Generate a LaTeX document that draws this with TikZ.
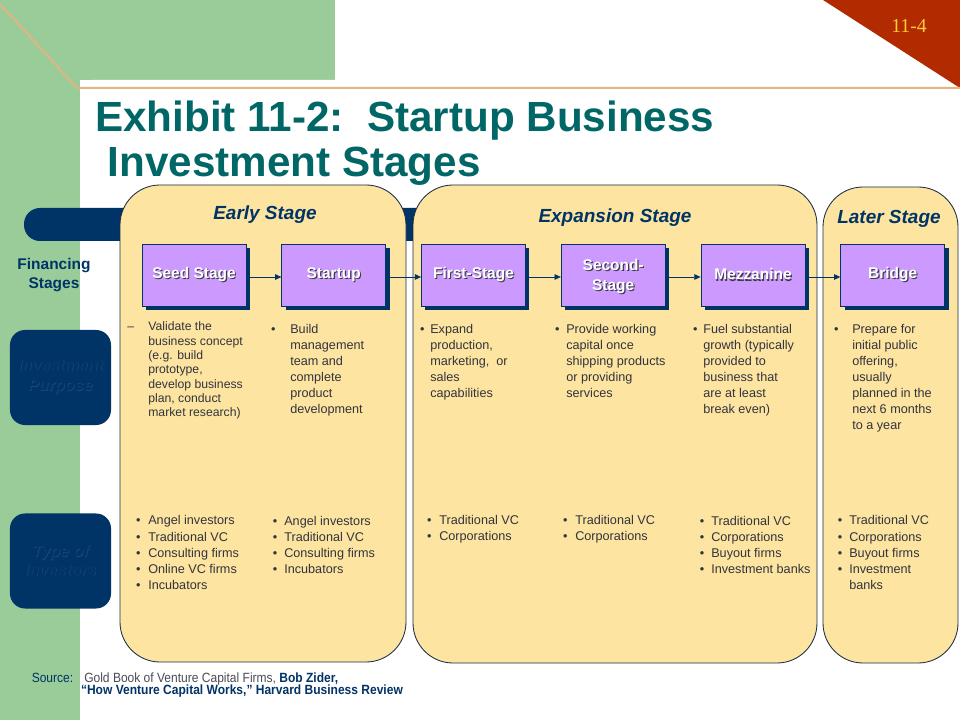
\documentclass[tikz,border=0pt]{standalone}
\usepackage{xcolor}
\usepackage{fontspec}
\setmainfont{Liberation Sans}
\newfontfamily\numfont{Liberation Serif}
\newfontfamily\narrowfont[FakeStretch=0.9]{Liberation Sans}
\usepackage{tikz}
\usetikzlibrary{arrows.meta,positioning,shadows}

\definecolor{slidegreen}{RGB}{153,204,153}
\definecolor{linetan}{RGB}{228,180,128}
\definecolor{slidered}{RGB}{178,42,0}
\definecolor{numgold}{RGB}{255,204,51}
\definecolor{titleteal}{RGB}{0,102,102}
\definecolor{navy}{RGB}{0,51,102}
\definecolor{panelfill}{RGB}{253,228,160}
\definecolor{panelline}{RGB}{25,45,70}
\definecolor{stagepurple}{RGB}{204,153,255}
\definecolor{boxshade}{RGB}{60,60,70}
\definecolor{sideshade}{RGB}{30,72,122}
\definecolor{bodygray}{RGB}{50,52,62}
\definecolor{sourcegray}{RGB}{75,75,85}

\newcommand{\bult}[1]{\leavevmode\llap{\textbullet\hspace{#1}}}
\newcommand{\dashmark}{\leavevmode\llap{\textendash\hspace{10pt}}}
\newcommand{\shadowtext}[4]{\leavevmode\rlap{\hspace{#1}\raisebox{-#1}{\textcolor{#2}{#4}}}\textcolor{#3}{#4}}
\newcommand{\boxtext}[1]{\shadowtext{0.8pt}{boxshade}{white}{#1}}
\newcommand{\sidetext}[1]{\shadowtext{0.5pt}{sideshade}{navy}{#1}}
\newcommand{\tightlines}{\setlength{\lineskiplimit}{-5pt}}

\begin{document}
\begin{tikzpicture}[x=0.025cm, y=-0.025cm, thin,
  panel/.style={draw=panelline, fill=panelfill, line width=0.6pt, rounded corners=1cm},
  heading/.style={text=navy, inner sep=0pt, font=\fontsize{13.5}{16}\selectfont\bfseries\itshape},
  stage/.style={draw=navy, line width=0.5pt, fill=stagepurple, minimum width=2.6cm,
    minimum height=1.55cm, inner sep=0pt, align=center,
    font=\fontsize{11}{14}\selectfont\bfseries,
    drop shadow={shadow xshift=0.1cm, shadow yshift=-0.1cm, fill=navy, opacity=1}},
  flow/.style={navy, line width=0.6pt, -{Triangle[length=4.5pt,width=4pt]}},
  sidebox/.style={fill=navy, rounded corners=0.375cm, minimum width=2.525cm,
    minimum height=2.375cm, inner sep=0pt, align=center,
    font=\fontsize{11.5}{13.9}\selectfont\bfseries\itshape},
  body/.style={anchor=base west, inner sep=0pt, align=left, text=bodygray,
    font=\fontsize{9}{11.4}\selectfont},
  srctext/.style={anchor=base west, inner sep=0pt, align=left, text=navy,
    font=\narrowfont\fontsize{9.5}{8.5}\selectfont\tightlines}]

  \useasboundingbox (0,0) rectangle (960,720);

  % slide background
  \fill[slidegreen] (0,0) rectangle (335,80);
  \fill[slidegreen] (0,0) rectangle (80,720);
  \fill[white, rounded corners=0.3cm] (80,80) rectangle (990,750);
  \fill[slidered] (823,0) -- (960,0) -- (960,88) -- cycle;
  \draw[linetan, line width=0.05cm] (0,4) -- (77,88) -- (960,88);
  \node[text=numgold, font=\numfont\fontsize{14}{16}\selectfont] (slidenum) at (909,26.5) {11-4};

  % title (anchored at the baseline of its last line)
  \node[anchor=base west, inner sep=0pt, align=left, text=titleteal,
    font=\fontsize{30}{32}\selectfont\bfseries] (title) at (95,177)
    {Exhibit 11-2:\ \ Startup Business\\\hspace*{0.3em}Investment Stages};

  % band and stage panels
  \fill[navy, rounded corners=0.4cm] (24,208) rectangle (600,241);
  \draw[panel] (120,185) rectangle (406,662);
  \draw[panel] (413,185) rectangle (817,663);
  \draw[panel] (823,187) rectangle (958,663);

  \node[heading] (early) at (265,215) {Early Stage};
  \node[heading] (expansion) at (615,218) {Expansion Stage};
  \node[heading] (later) at (889,219) {Later Stage};

  % row labels
  \node[text=navy, align=center, font=\fontsize{11}{14}\selectfont\bfseries] (financing) at (54,275) {Financing\\Stages};
  \node[sidebox] (purpose) at (60.5,377.5) {\sidetext{Investment}\\\sidetext{Purpose}};
  \node[sidebox] (investors) at (60.5,561) {\sidetext{Type of}\\\sidetext{Investors}};

  % financing stages
  \node[stage] (seed) at (194,275) {\boxtext{Seed Stage}};
  \node[stage, right=0.875cm of seed] (startup) {\boxtext{Startup}};
  \node[stage, right=0.875cm of startup] (first) {\boxtext{First-Stage}};
  \node[stage, right=0.875cm of first, text depth=0pt] (second) {\boxtext{Second-}\\\boxtext{Stage}};
  \node[stage, right=0.875cm of second] (mezz) {\boxtext{Mezzanine}};
  \node[stage, right=0.875cm of mezz] (bridge) {\boxtext{Bridge}};

  \draw[flow] ([yshift=-0.05cm]seed.east) -- ([yshift=-0.05cm]startup.west);
  \draw[flow] ([yshift=-0.05cm]startup.east) -- ([yshift=-0.05cm]first.west);
  \draw[flow] ([yshift=-0.05cm]first.east) -- ([yshift=-0.05cm]second.west);
  \draw[flow] ([yshift=-0.05cm]second.east) -- ([yshift=-0.05cm]mezz.west);
  \draw[flow] ([yshift=-0.05cm]mezz.east) -- ([yshift=-0.05cm]bridge.west);

  % investment purpose (each text sits on the baseline of its last line)
  \node[body, font=\fontsize{8.7}{10.2}\selectfont] (seedwhy) at (148,417)
    {\dashmark Validate the\\business concept\\(e.g. build\\prototype,\\develop business\\plan, conduct\\market research)};
  \node[body] (startupwhy) at (290,413.6)
    {\bult{10.5pt}Build\\management\\team and\\complete\\product\\development};
  \node[body] (firstwhy) at (430,397.6)
    {\bult{4.1pt}Expand\\production,\\marketing,\ \ or\\sales\\capabilities};
  \node[body] (secondwhy) at (566,397.6)
    {\bult{4.8pt}Provide working\\capital once\\shipping products\\or providing\\services};
  \node[body] (mezzwhy) at (703,413.6)
    {\bult{4.1pt}Fuel substantial\\growth (typically\\provided to\\business that\\are at least\\break even)};
  \node[body] (bridgewhy) at (852,429.7)
    {\bult{9.8pt}Prepare for\\initial public\\offering,\\usually\\planned in the\\next 6 months\\to a year};

  % type of investors
  \node[body] (seedwho) at (148,589.1)
    {\bult{5.5pt}Angel investors\\\bult{5.5pt}Traditional VC\\\bult{5.5pt}Consulting firms\\\bult{5.5pt}Online VC firms\\\bult{5.5pt}Incubators};
  \node[body] (startupwho) at (284,573.1)
    {\bult{5pt}Angel investors\\\bult{5pt}Traditional VC\\\bult{5pt}Consulting firms\\\bult{5pt}Incubators};
  \node[body] (firstwho) at (439,541)
    {\bult{5.5pt}Traditional VC\\\bult{5.5pt}Corporations};
  \node[body] (secondwho) at (575,541)
    {\bult{5.5pt}Traditional VC\\\bult{5.5pt}Corporations};
  \node[body] (mezzwho) at (711,573.1)
    {\bult{5pt}Traditional VC\\\bult{5pt}Corporations\\\bult{5pt}Buyout firms\\\bult{5pt}Investment banks};
  \node[body] (bridgewho) at (849,589.1)
    {\bult{5pt}Traditional VC\\\bult{5pt}Corporations\\\bult{5pt}Buyout firms\\\bult{5pt}Investment\\banks};

  % source
  \node[srctext] (srclabel) at (31.5,682.3) {Source:};
  \node[srctext] (srcref) at (84,694.3)
    {\textcolor{sourcegray}{Gold Book of Venture Capital Firms,} \textbf{Bob Zider,}\\\hspace*{-2.3pt}\textbf{“How Venture Capital Works,” Harvard Business Review}};
\end{tikzpicture}
\end{document}
